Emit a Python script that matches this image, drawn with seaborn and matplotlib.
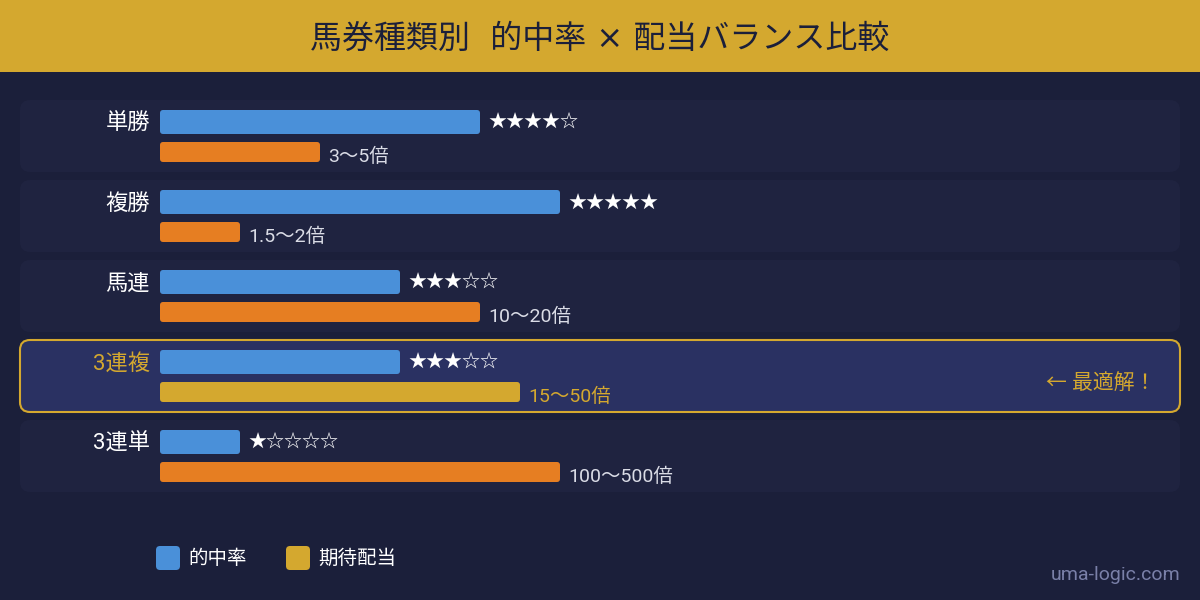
import numpy as np
import pandas as pd
import matplotlib
matplotlib.use("Agg")
import matplotlib.pyplot as plt
from matplotlib.patches import FancyBboxPatch, Rectangle
import seaborn as sns

# ---- data ----
types = ['単勝', '複勝', '馬連', '3連複', '3連単']
hit_stars = [4, 5, 3, 3, 1]
payout_score = [2, 1, 4, 4.5, 5]
payout_labels = ['3〜5倍', '1.5〜2倍', '10〜20倍', '15〜50倍', '100〜500倍']
best_type = '3連複'
title = '馬券種類別  的中率 × 配当バランス比較'
legend_labels = ['的中率', '期待配当']
best_note = '← 最適解！'
watermark = 'uma-logic.com'

# ---- style ----
BG = '#1B1F3A'
ROW_BG = '#1F2340'
HL_BG = '#2A3162'
GOLD = '#D4A82F'
BLUE = '#4A90D9'
ORANGE = '#E67E22'
TEXT_DARK = '#1B1F3A'
LABEL_LIGHT = '#DADCE6'
WM = '#7A80A8'

sns.set_style('white')
plt.rcParams['font.family'] = ['Roboto', 'Noto Sans CJK JP', 'DejaVu Sans']
plt.rcParams['font.weight'] = 'normal'

fig = plt.figure(figsize=(12, 6), dpi=100, facecolor=BG)
ax = fig.add_axes([0, 0, 1, 1])
ax.set_xlim(0, 1200)
ax.set_ylim(600, 0)
ax.axis('off')
ax.set_facecolor(BG)

# banner
ax.add_patch(Rectangle((0, 0), 1200, 72, facecolor=GOLD, edgecolor='none'))
ax.text(600, 39, title, ha='center', va='center', fontsize=23, color=TEXT_DARK,
        family=['DejaVu Sans', 'Noto Sans CJK JP'])

# row panels
for i, t in enumerate(types):
    is_best = t == best_type
    ax.add_patch(FancyBboxPatch((20, 100 + 80 * i), 1160, 72,
                                boxstyle='round,pad=0,rounding_size=10',
                                facecolor=HL_BG if is_best else ROW_BG,
                                edgecolor=GOLD if is_best else 'none',
                                linewidth=1.5 if is_best else 0))

# bar axes: 80 px per unit in both directions
bx = fig.add_axes([160 / 1200, 0, 1040 / 1200, 1])
bx.set_facecolor('none')

pos = np.arange(len(types))
df_hit = pd.DataFrame({'type': types, 'y': pos.astype(float), 'v': hit_stars})
df_pay = pd.DataFrame({'type': types, 'y': pos + 0.375, 'v': payout_score})

sns.barplot(data=df_hit, x='v', y='y', orient='y', native_scale=True,
            width=0.3, color=BLUE, errorbar=None, ax=bx, saturation=1)
pay_palette = {t: (GOLD if t == best_type else ORANGE) for t in types}
sns.barplot(data=df_pay, x='v', y='y', orient='y', native_scale=True,
            width=0.25, hue='type', palette=pay_palette, dodge=False,
            errorbar=None, legend=False, ax=bx, saturation=1)

# round bar corners
for p in list(bx.patches):
    x0, y0 = p.get_xy()
    w, h = p.get_width(), p.get_height()
    fc = p.get_facecolor()
    p.remove()
    bx.add_patch(FancyBboxPatch((x0, y0), w, h,
                                boxstyle='round,pad=0,rounding_size=0.04',
                                facecolor=fc, edgecolor='none'))

bx.set_xlim(0, 13)
bx.set_ylim((600 - 122) / 80, -122 / 80)
bx.axis('off')

for i, t in enumerate(types):
    is_best = t == best_type
    bx.text(-0.125, i + 0.025, t, ha='right', va='center', fontsize=16,
            color=GOLD if is_best else 'white')
    stars = '★' * hit_stars[i] + '☆' * (5 - hit_stars[i])
    bx.text(hit_stars[i] + 0.1, i + 0.01, stars, ha='left', va='center',
            fontsize=13, color='white')
    bx.text(payout_score[i] + 0.1, i + 0.375 + 0.06, payout_labels[i],
            ha='left', va='center', fontsize=14,
            color=GOLD if is_best else LABEL_LIGHT)

ax.text(1155, 383, best_note, ha='right', va='center', fontsize=15, color=GOLD)

# legend
for (lx, col, lab) in [(156, BLUE, legend_labels[0]), (286, GOLD, legend_labels[1])]:
    ax.add_patch(FancyBboxPatch((lx, 546), 24, 24,
                                boxstyle='round,pad=0,rounding_size=4',
                                facecolor=col, edgecolor='none'))
    ax.text(lx + 32, 559, lab, ha='left', va='center', fontsize=14, color='white')

ax.text(1180, 575, watermark, ha='right', va='center', fontsize=14, color=WM)

fig.savefig('out.png', dpi=100, facecolor=BG)
